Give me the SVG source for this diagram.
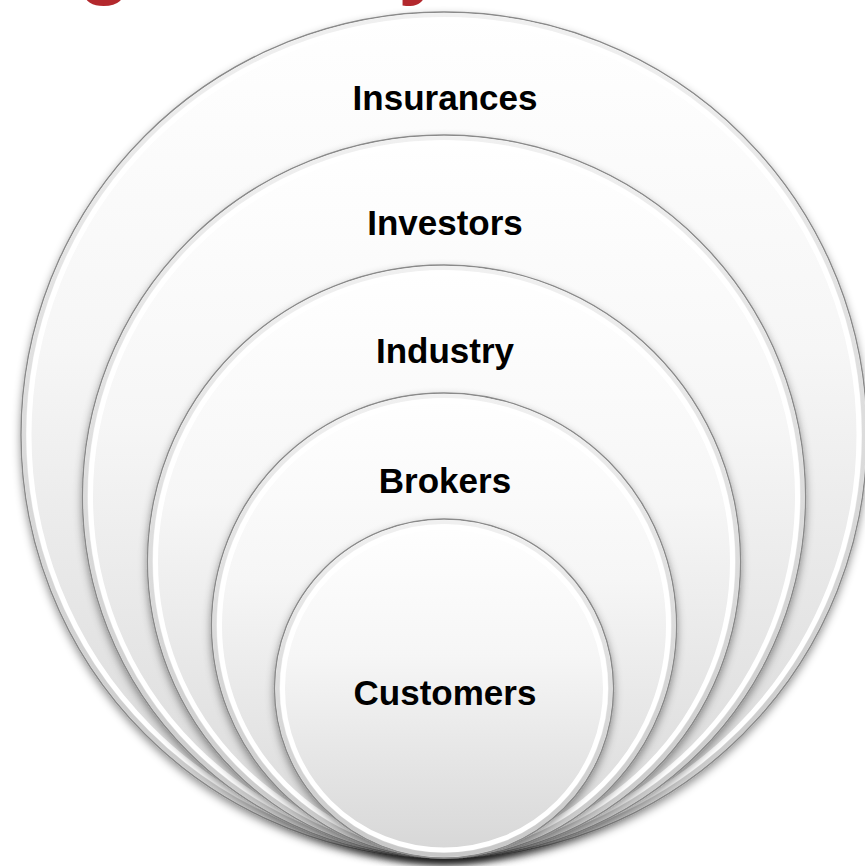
<svg xmlns="http://www.w3.org/2000/svg" width="865" height="866" viewBox="0 0 865 866">
  <style>
    .disc { fill: url(#discFill); stroke: #8a8a8a; stroke-width: 1.4; filter: url(#shadow); }
    .band { fill: none; stroke: url(#bandFill); stroke-width: 4; }
    .ring { fill: none; stroke: #ffffff; stroke-width: 5; }
    .label { font-family: "Liberation Sans", Arial, sans-serif; font-weight: bold; font-size: 35px; fill: #000000; text-anchor: middle; }
    .title { font-family: "Liberation Sans", Arial, sans-serif; font-weight: bold; font-size: 88px; fill: #b3282d; }
  </style>
  <defs>
    <linearGradient id="discFill" x1="0" y1="0" x2="0" y2="1">
      <stop offset="0" stop-color="#ffffff"/>
      <stop offset="0.4" stop-color="#f6f6f6"/>
      <stop offset="1" stop-color="#d6d6d6"/>
    </linearGradient>
    <linearGradient id="bandFill" x1="0" y1="0" x2="0" y2="1">
      <stop offset="0" stop-color="#f0f0f0"/>
      <stop offset="1" stop-color="#c8c8c8"/>
    </linearGradient>
    <filter id="shadow" x="-10%" y="-10%" width="120%" height="125%">
      <feDropShadow dx="0" dy="4" stdDeviation="4" flood-color="#000000" flood-opacity="0.42"/>
    </filter>
  </defs>

  <rect x="0" y="0" width="865" height="866" fill="#ffffff"/>

  <g id="title">
    <text class="title" x="78" y="-12">g</text>
    <text class="title" x="398" y="-12">y</text>
  </g>

  <g id="insurances">
    <circle class="disc" cx="444" cy="435" r="423"/>
    <circle class="band" cx="444" cy="435" r="420"/>
    <circle class="ring" cx="444" cy="435" r="415"/>
    <text class="label" x="445" y="110">Insurances</text>
  </g>

  <g id="investors">
    <circle class="disc" cx="444" cy="496.5" r="361.5"/>
    <circle class="band" cx="444" cy="496.5" r="358.5"/>
    <circle class="ring" cx="444" cy="496.5" r="353.5"/>
    <text class="label" x="445" y="235">Investors</text>
  </g>

  <g id="industry">
    <circle class="disc" cx="444" cy="561.5" r="296.5"/>
    <circle class="band" cx="444" cy="561.5" r="293.5"/>
    <circle class="ring" cx="444" cy="561.5" r="288.5"/>
    <text class="label" x="445" y="363">Industry</text>
  </g>

  <g id="brokers">
    <circle class="disc" cx="444" cy="625.5" r="232.5"/>
    <circle class="band" cx="444" cy="625.5" r="229.5"/>
    <circle class="ring" cx="444" cy="625.5" r="224.5"/>
    <text class="label" x="445" y="493">Brokers</text>
  </g>

  <g id="customers">
    <circle class="disc" cx="444" cy="688.5" r="169.5"/>
    <circle class="band" cx="444" cy="688.5" r="166.5"/>
    <circle class="ring" cx="444" cy="688.5" r="161.5"/>
    <text class="label" x="445" y="705">Customers</text>
  </g>

  <g id="connectors"/>
</svg>
